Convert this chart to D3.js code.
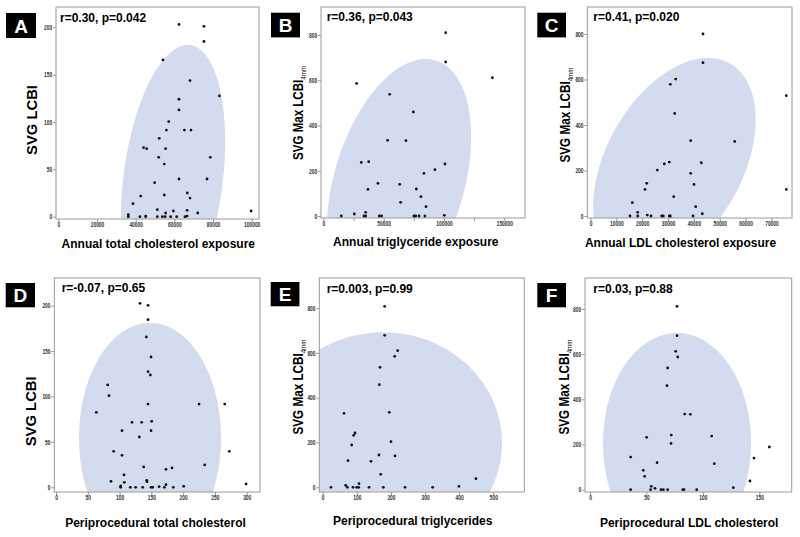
<!DOCTYPE html>
<html><head><meta charset="utf-8">
<script src="https://cdn.jsdelivr.net/npm/d3@7"></script>
<style>body{margin:0;background:#fff}svg{display:block}text{font-family:"Liberation Sans",Arial,sans-serif}</style>
</head><body><svg id="c" width="800" height="537"></svg>
<script>
// ---------------- DATA ----------------
const panelLetters = ["A","B","C","D","E","F"];
const statLabels = ["r=0.30, p=0.042","r=0.36, p=0.043","r=0.41, p=0.020","r=-0.07, p=0.65","r=0.003, p=0.99","r=0.03, p=0.88"];
const xTitles = ["Annual total cholesterol exposure","Annual triglyceride exposure","Annual LDL cholesterol exposure",
                 "Periprocedural total cholesterol","Periprocedural triglycerides","Periprocedural LDL cholesterol"];
const yTitleMain = ["SVG LCBI","SVG Max LCBI","SVG Max LCBI","SVG LCBI","SVG Max LCBI","SVG Max LCBI"];
const yTitleSub  = ["","4mm","4mm","","4mm","4mm"];

const xTicksA = [0,20000,40000,60000,80000,100000];
const xTicksB = [0,50000,100000,150000];
const xMinorB = [25000,75000,125000];
const xTicksC = [0,10000,20000,30000,40000,50000,60000,70000];
const xTicksD = [0,50,100,150,200,250,300];
const xTicksE = [0,100,200,300,400,500];
const xTicksF = [0,50,100,150];
const yTicksLCBI = [0,50,100,150,200];
const yTicksMax = [0,200,400,600,800];

const aX = [62400,75300,75300,54100,68100,83300,62400,62400,57100,55900,65200,68600,52200,44100,45700,55500,51900,78600,54800,49800,62400,76900,42600,54800,66700,68100,38600,51200,59500,66600,72100,55500,36200,36200,42200,45200,45200,51200,53800,55200,58100,61200,65500,66600,99700];
const aY = [203,201,185,165.5,143.7,127.5,124,112.7,100.4,91.5,91.5,91.5,82.7,72.9,71.8,71.8,62.7,62.7,55.6,35.9,39.8,39.8,21.8,22.9,25,19.7,13.7,7.4,6,6.7,3.9,3.9,2.1,0,0,0.7,0,0,0,0,0,0,0,0.7,6];

const bX = [101400,101400,140100,27600,55000,74600,53300,68500,31500,37600,100800,92500,83400,45300,63300,37000,77100,80900,64100,85100,25700,35100,14900,33700,35100,46400,48300,75100,76500,79300,84200,100300];
const bY = [810,680.6,611,586,537.7,459.7,334.4,333,237,240,229.8,204.8,188.6,144.4,140,117.9,119.3,85.5,60.4,41.3,8.8,16.2,0,0,0,0,0,0,0,0,0,3];

const cX = [43520,43520,32950,30880,75750,32570,38760,55780,42870,30490,28550,25840,38760,21740,40040,21080,75750,32190,16170,40700,18260,43250,21970,15280,18260,23400,27540,28160,30490,30880,39650];
const cY = [800,674,602,579,529,451,331,328,234,237,229,202,187.5,143.6,139,117,117,85,58.6,41,16,10,4,0,0,0,0,0,0,0,0];

const dX = [132.2,144.8,144.8,142.1,149.5,144.8,148.4,81.3,83.4,144.8,225,265.4,63.5,119.6,134.8,150.5,103.8,149.5,131.1,90.7,272.7,103.8,137.9,233.9,173,182.5,107,86.5,107.5,143.2,142.7,101.7,101.7,117,125.3,136.4,149.5,152.1,162.1,170.5,173,184.6,200.9,299];
const dY = [202.6,200.4,184.6,165.5,143.5,127.3,123.7,112.7,100.9,91.7,91.7,91.7,82.6,71.6,71.6,72.7,62.4,62.4,55.4,39.6,39.6,35.2,22.4,24.6,19.8,21.3,13.6,6.6,5.5,6.2,7.7,1.5,0,0,0,0,0,0,0.7,0,2.9,0,1.1,3.7];

const eX = [181.6,181.6,219.7,210.9,168,166,62.5,195.3,94.7,90.8,200.2,85,165,211.9,74.2,141.6,170,449.2,106.4,67.4,72.3,24.4,88.9,99.6,105.5,135.7,177.7,241.2,322.3,399.4];
const eY = [807,678,609.7,584.4,535.3,458,330,334.6,242.4,232,203.7,188.8,144.2,139.8,119,116,58,38.7,16.4,8.9,0,0,0,0,0,0,0,0,0,4.5];

const fX = [77.1,77.1,75.9,77.7,68.8,68.2,83.9,88.9,72,107.8,50.2,71.8,36,145.3,158.9,59.4,110.1,47.2,48.4,141.7,127,54.3,57.6,36,53.7,62.9,65,68.8,82.1,83.3,94.5];
const fY = [811.8,682,612.5,587.5,538.7,460.5,335,333.6,242,237.6,231.7,205,144.6,140.2,189,119.6,115,85.6,59,38.4,8.9,14.8,5.9,0,0,0,0,0,0,0,0];

// ellipses in data units: [centerX, centerY, u_x, u_y, v_x, v_y]
const ellA = [59300, 38.8, 25850, 0, 7680, 142.6];
const ellB = [62700, 145.9, 55560, 0, 22220, 548];
const ellC = [32460, 233, 28630, 0, 13000, 461.5];
const ellD = [147.9, 54.3, 111.7, 0, 0, 126.7];
const ellE = [177.6, 197.7, 347.9, 0, 0, 494];
const ellF = [77.1, 206.7, 65.6, 0, 0, 487];

// ---------------- LAYOUT ----------------
const panels = [
 {xs:aX, ys:aY, ell:ellA, xt:xTicksA, yt:yTicksLCBI, frame:[56,7,259,219], xDom:[-1189,103775], yDom:[-2.43,221.4],
  box:[6,13,30,25], stat:[60,22], xtp:[158.3,248.3], ytp:[31.7,120,70]},
 {xs:bX, ys:bY, ell:ellB, xt:xTicksB, xm:xMinorB, yt:yTicksMax, frame:[321,7,525,218], xDom:[-1906,167150], yDom:[-8.84,923.8],
  box:[271,12.7,29,24.7], stat:[326.7,21], xtp:[415.8,245.7], ytp:[297.2,113,94]},
 {xs:cX, ys:cY, ell:ellC, xt:xTicksC, yt:yTicksMax, frame:[587.3,7,792,218], xDom:[-1238,77950], yDom:[-8.79,918.7],
  box:[537.3,12.7,28.7,24.7], stat:[593.3,21], xtp:[680.5,247.3], ytp:[565,115,95]},
 {xs:dX, ys:dY, ell:ellD, xt:xTicksD, yt:yTicksLCBI, frame:[54.3,278,260,492], xDom:[-2.67,320.9], yDom:[-5.18,230.5],
  box:[5.7,283,29.3,24.3], stat:[61.7,291.5], xtp:[155.5,527.3], ytp:[30.8,411.3,70]},
 {xs:eX, ys:eY, ell:ellE, xt:xTicksE, yt:yTicksMax, frame:[319.3,278,524.3,492], xDom:[-9.96,590.9], yDom:[-20.97,934],
  box:[270.7,282,28.7,24.3], stat:[326.7,292.5], xtp:[412.7,525.3], ytp:[297.5,387,95]},
 {xs:fX, ys:fY, ell:ellF, xt:xTicksF, yt:yTicksMax, frame:[585,278,791.7,492], xDom:[-4.43,178.7], yDom:[-10.2,937.2],
  box:[537.3,283,28.7,24.3], stat:[593.3,292.5], xtp:[689.2,527.3], ytp:[564,387,95]}
];

const ellColor = "#d3dbef";
const frameColor = "#9a9a9a";
const tickColor = "#333";
const sx = 0.75; // condensed tick labels

const svg = d3.select("#c");
const defs = svg.append("defs");

panels.forEach((p, i) => {
  const [fx0, fy0, fx1, fy1] = p.frame;
  const x = d3.scaleLinear().domain(p.xDom).range([fx0, fx1]);
  const y = d3.scaleLinear().domain(p.yDom).range([fy1, fy0]);
  const g = svg.append("g");
  const cid = "clip" + i;
  defs.append("clipPath").attr("id", cid).append("rect")
    .attr("x", fx0).attr("y", fy0).attr("width", fx1 - fx0).attr("height", fy1 - fy0);

  // ellipse
  const [cx, cy, ux, uy, vx, vy] = p.ell;
  const pts = d3.range(0, 360, 2).map(a => {
    const t = a * Math.PI / 180;
    return [x(cx + ux * Math.cos(t) + vx * Math.sin(t)), y(cy + uy * Math.cos(t) + vy * Math.sin(t))];
  });
  g.append("path").attr("d", d3.line()(pts) + "Z").attr("fill", ellColor).attr("clip-path", `url(#${cid})`);

  // frame
  g.append("rect").attr("x", fx0).attr("y", fy0).attr("width", fx1 - fx0).attr("height", fy1 - fy0)
    .attr("fill", "none").attr("stroke", frameColor).attr("stroke-width", 1);

  // x axis
  const gx = g.append("g").attr("transform", `translate(0,${fy1})`)
    .call(d3.axisBottom(x).tickValues(p.xt).tickSize(3).tickFormat(d3.format("d")));
  gx.select(".domain").remove();
  gx.selectAll("line").attr("stroke", frameColor);
  gx.selectAll("text").attr("y", 8).attr("dy", 0).attr("font-size", 6.5).attr("font-weight", "bold")
    .attr("fill", tickColor).attr("transform", `scale(${sx},1)`);
  if (p.xm) {
    const gm = g.append("g").attr("transform", `translate(0,${fy1})`)
      .call(d3.axisBottom(x).tickValues(p.xm).tickSize(3).tickFormat(""));
    gm.select(".domain").remove();
    gm.selectAll("line").attr("stroke", frameColor);
  }
  // y axis
  const gy = g.append("g").attr("transform", `translate(${fx0},0)`)
    .call(d3.axisLeft(y).tickValues(p.yt).tickSize(3).tickFormat(d3.format("d")));
  gy.select(".domain").remove();
  gy.selectAll("line").attr("stroke", frameColor);
  gy.selectAll("text").attr("x", -3.8 / sx).attr("dy", "0.35em").attr("font-size", 6.5).attr("font-weight", "bold")
    .attr("fill", tickColor).attr("transform", `scale(${sx},1)`);

  // points
  g.selectAll("circle.pt").data(d3.zip(p.xs, p.ys)).join("circle").attr("class", "pt")
    .attr("cx", d => x(d[0])).attr("cy", d => y(d[1])).attr("r", 1.4).attr("fill", "#111");

  // panel letter box
  const [bx, by, bw, bh] = p.box;
  g.append("rect").attr("x", bx).attr("y", by).attr("width", bw).attr("height", bh).attr("fill", "#000");
  g.append("text").attr("x", bx + bw / 2).attr("y", by + bh / 2 + 7).attr("text-anchor", "middle")
    .attr("font-size", 19).attr("font-weight", "bold").attr("fill", "#fff").text(panelLetters[i]);

  // stat label
  g.append("text").attr("x", p.stat[0]).attr("y", p.stat[1]).attr("font-size", 12).attr("font-weight", "bold")
    .attr("fill", "#000").text(statLabels[i]);

  // x title
  g.append("text").attr("x", p.xtp[0]).attr("y", p.xtp[1]).attr("text-anchor", "middle")
    .attr("font-size", 12).attr("font-weight", "bold").attr("fill", "#000").text(xTitles[i]);

  // y title (rotated)
  const [tcx, tcy, tlen] = p.ytp;
  const yt = g.append("text").attr("text-anchor", "middle").attr("font-size", 15).attr("font-weight", "bold").attr("fill", "#000");
  yt.append("tspan").text(yTitleMain[i]);
  if (yTitleSub[i]) yt.append("tspan").attr("font-size", 8).attr("font-weight", "normal").attr("dy", 3).text(yTitleSub[i]);
  const L = yt.node().getComputedTextLength();
  const s = tlen / L;
  yt.attr("transform", `translate(${tcx + 5.4},${tcy}) rotate(-90) scale(${s},1)`);
});
</script>
</body></html>
